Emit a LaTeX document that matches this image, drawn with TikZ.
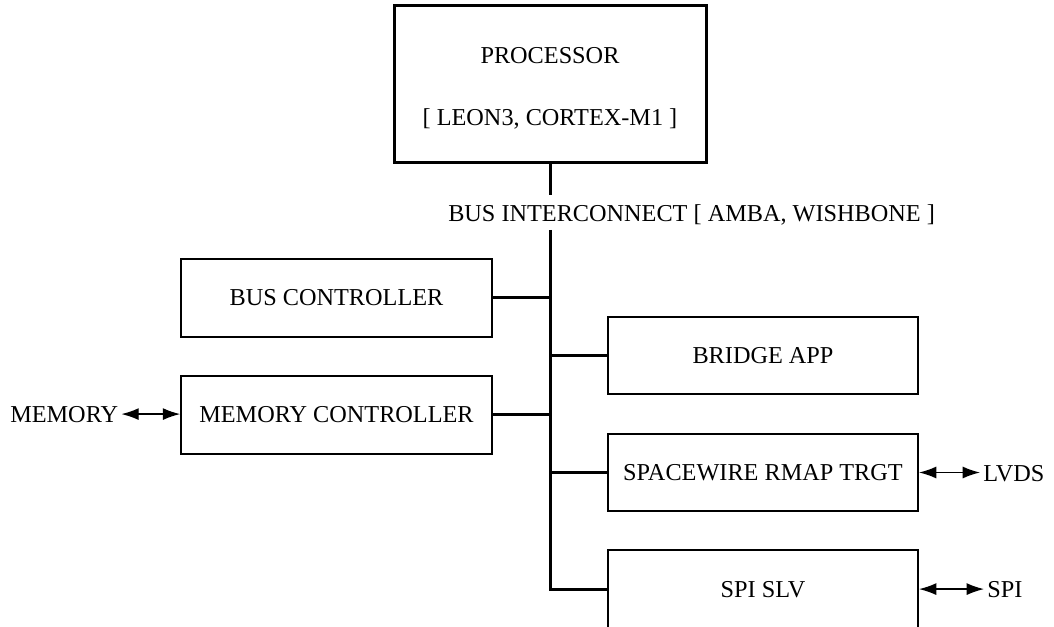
\documentclass[tikz,border=0pt]{standalone}
\usepackage{fontspec}
\setmainfont{Liberation Serif}
\usetikzlibrary{arrows.meta}
\begin{document}
\begin{tikzpicture}[x=0.75pt,y=-0.75pt,
  txt/.style={font=\fontsize{18.2}{21.8}\selectfont},
  block/.style={txt, draw, line width=1.5pt, minimum width=233pt, minimum height=58.5pt, inner sep=0pt},
  cpu/.style={txt, draw, line width=2.25pt, minimum width=234pt, minimum height=117.75pt, align=center, inner sep=0pt},
  bus/.style={line width=2.25pt},
  io/.style={line width=1pt, {Latex[length=13pt,width=9pt]}-{Latex[length=13pt,width=9pt]}},
  lbl/.style={txt, inner sep=2.25pt}]

\useasboundingbox (0,0) rectangle (1054,627);

% processor
\node[cpu] (proc) at (550,84.5) {\rule{0pt}{18pt}PROCESSOR\\[25pt]{[} LEON3, CORTEX-M1 {]}};

% bus label
\node[txt, inner sep=0pt, anchor=base west] (buslbl) at (448,222) {BUS INTERCONNECT [ AMBA, WISHBONE ]};

% peripheral blocks
\node[block] (busc) at (336.5,298) {BUS CONTROLLER};
\node[block] (memc) at (336.5,415) {MEMORY CONTROLLER};
\node[block, minimum width=232.5pt, minimum height=57.75pt] (bridge) at (763,356) {BRIDGE APP};
\node[block, minimum width=232.5pt, minimum height=57.75pt] (spw) at (763,472.5) {SPACEWIRE RMAP TRGT};
\node[block, minimum width=232.5pt, minimum height=60pt] (spi) at (763,590) {SPI SLV};

% external interfaces
\node[lbl, anchor=base west] (memory) at (7,422) {MEMORY};
\node[lbl, anchor=base west] (lvds) at (980,481) {LVDS};
\node[lbl, anchor=base west] (spiext) at (984,597) {SPI};

% bus backbone
\coordinate (busin) at (550,195);
\coordinate (bustop) at (550,230);
\coordinate (busend) at (550,589);

\draw[bus] (proc.south) -- (busin);
\draw[bus] (bustop) -- (busend) -- (busend -| spi.west);
\draw[bus] (busc.east) -- (busc.east -| bustop);
\draw[bus] (memc.east) -- (memc.east -| bustop);
\draw[bus] (bridge.west) -- (bridge.west -| bustop);
\draw[bus] (spw.west) -- (spw.west -| bustop);

% bidirectional links
\draw[io] (memory.east) -- (memory.east -| memc.west);
\draw[io] (spw.east) -- (spw.east -| lvds.west);
\draw[io] (spi.east |- spiext.west) -- (spiext.west);
\end{tikzpicture}
\end{document}
